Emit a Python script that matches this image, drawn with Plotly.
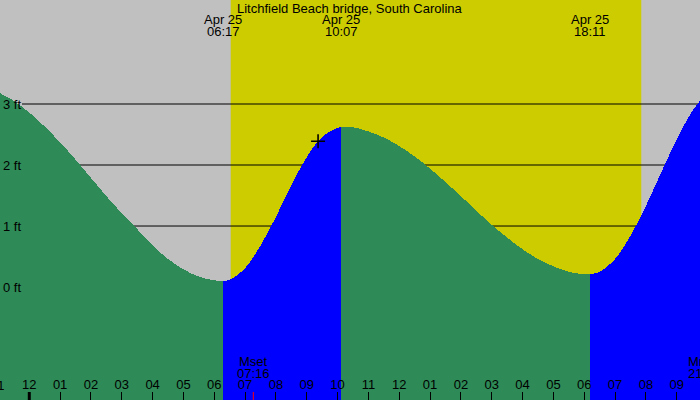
import pandas as pd
import plotly.graph_objects as go

# ---------------- data ----------------
station = "Litchfield Beach bridge, South Carolina"

# falling tide (previous high -> low 06:17)
fall1_t = ["2024-04-24 23:00", "2024-04-24 23:30", "2024-04-25 00:00", "2024-04-25 00:30",
           "2024-04-25 01:00", "2024-04-25 01:30", "2024-04-25 02:00", "2024-04-25 02:30",
           "2024-04-25 03:00", "2024-04-25 03:30", "2024-04-25 04:00", "2024-04-25 04:30",
           "2024-04-25 05:00", "2024-04-25 05:30", "2024-04-25 06:00", "2024-04-25 06:17"]
fall1_h = [3.19, 3.05, 2.86, 2.63, 2.37, 2.09, 1.79, 1.49, 1.21, 0.95, 0.68, 0.46, 0.29, 0.17, 0.11, 0.10]

# rising tide (low 06:17 -> high 10:07)
rise1_t = ["2024-04-25 06:17", "2024-04-25 06:30", "2024-04-25 07:00", "2024-04-25 07:30",
           "2024-04-25 08:00", "2024-04-25 08:30", "2024-04-25 09:00", "2024-04-25 09:30",
           "2024-04-25 10:00", "2024-04-25 10:07"]
rise1_h = [0.10, 0.12, 0.31, 0.68, 1.15, 1.67, 2.13, 2.46, 2.61, 2.62]

# falling tide (high 10:07 -> low 18:11)
fall2_t = ["2024-04-25 10:07", "2024-04-25 10:30", "2024-04-25 11:00", "2024-04-25 11:30",
           "2024-04-25 12:00", "2024-04-25 12:30", "2024-04-25 13:00", "2024-04-25 13:30",
           "2024-04-25 14:00", "2024-04-25 14:30", "2024-04-25 15:00", "2024-04-25 15:30",
           "2024-04-25 16:00", "2024-04-25 16:30", "2024-04-25 17:00", "2024-04-25 17:30",
           "2024-04-25 18:00", "2024-04-25 18:11"]
fall2_h = [2.62, 2.62, 2.55, 2.45, 2.31, 2.14, 1.94, 1.72, 1.49, 1.25, 1.02, 0.81,
           0.62, 0.46, 0.34, 0.25, 0.21, 0.21]

# rising tide (low 18:11 -> next high)
rise2_t = ["2024-04-25 18:11", "2024-04-25 18:30", "2024-04-25 19:00", "2024-04-25 19:30",
           "2024-04-25 20:00", "2024-04-25 20:30", "2024-04-25 21:00", "2024-04-25 21:30",
           "2024-04-25 22:00"]
rise2_h = [0.21, 0.25, 0.46, 0.84, 1.33, 1.88, 2.42, 2.88, 3.20]

# tide extreme labels at top
extreme_times = ["2024-04-25 06:17", "2024-04-25 10:07", "2024-04-25 18:11"]
extreme_dates = ["Apr 25", "Apr 25", "Apr 25"]
extreme_labels = ["06:17", "10:07", "18:11"]

# daylight
sunrise = "2024-04-25 06:32"
sunset = "2024-04-25 19:51"

# moon events
moon_times = ["2024-04-25 07:16", "2024-04-25 21:54"]
moon_names = ["Mset", "Mrise"]
moon_labels = ["07:16", "21:54"]

# current marker
now_t = ["2024-04-25 09:22"]
now_h = [2.39]

# height grid / labels
grid_ft = [0, 1, 2, 3]
grid_labels = ["0 ft", "1 ft", "2 ft", "3 ft"]

x_range = ["2024-04-24 23:03:00", "2024-04-25 21:45:18"]
y_range = [-1.852, 4.705]
hour_ticks_extra = ["2024-04-24 23:00"]  # partially visible tick label at left edge
hour_extra_labels = ["11"]

# ---------------- style ----------------
GREY = "#c0c0c0"
YELLOW = "#cccc00"
GREEN = "#2e8b57"
BLUE = "#0000ff"
FONT = "Liberation Sans, Arial, sans-serif"

fig = go.Figure()

BASE = -10  # well below axis range; fills reach the bottom edge

def add_segment(ts, hs, color):
    fig.add_trace(go.Scatter(x=[ts[0], ts[-1]], y=[BASE, BASE], mode="lines",
                             line=dict(width=0, color=color), hoverinfo="skip",
                             showlegend=False))
    fig.add_trace(go.Scatter(x=ts, y=hs, mode="lines", line=dict(width=0, color=color, shape="spline"),
                             fill="tonexty", fillcolor=color, showlegend=False))

add_segment(fall1_t, fall1_h, GREEN)
add_segment(rise1_t, rise1_h, BLUE)
add_segment(fall2_t, fall2_h, GREEN)
add_segment(rise2_t, rise2_h, BLUE)

fig.add_trace(go.Scatter(x=now_t, y=now_h, mode="markers",
                         marker=dict(symbol="cross-thin", size=10, line=dict(width=1.6, color="black")),
                         showlegend=False))

x0 = pd.Timestamp(x_range[0])
x1 = pd.Timestamp(x_range[1])

def frac(t):
    return (pd.Timestamp(t) - x0) / (x1 - x0)

shapes = [
    dict(type="rect", xref="x", yref="paper", x0=sunrise, x1=sunset, y0=0, y1=1,
         fillcolor=YELLOW, line=dict(width=0), layer="below"),
]
for g in grid_ft:
    shapes.append(dict(type="line", xref="paper", yref="y", x0=22 / 700, x1=1, y0=g, y1=g,
                       line=dict(color="black", width=1), layer="below"))
# midnight thick tick
shapes.append(dict(type="line", xref="x", yref="paper", x0="2024-04-25 00:00", x1="2024-04-25 00:00",
                   y0=0, y1=8 / 400, line=dict(color="black", width=3), layer="above"))
# moon event red ticks
for mt in moon_times:
    shapes.append(dict(type="line", xref="x", yref="paper", x0=mt, x1=mt,
                       y0=0, y1=8 / 400, line=dict(color="red", width=1), layer="above"))

ann = []
F = dict(family=FONT, size=13, color="black")
ann.append(dict(xref="paper", yref="paper", x=0.5, y=1 - 8 / 400, text=station, showarrow=False,
                xanchor="center", yanchor="middle", font=F))
for t, d, l in zip(extreme_times, extreme_dates, extreme_labels):
    ann.append(dict(xref="x", yref="paper", x=t, y=1 - 19.5 / 400, text=d, showarrow=False,
                    xanchor="center", yanchor="middle", font=F))
    ann.append(dict(xref="x", yref="paper", x=t, y=1 - 31.5 / 400, text=l, showarrow=False,
                    xanchor="center", yanchor="middle", font=F))
for t, n, l in zip(moon_times, moon_names, moon_labels):
    ann.append(dict(xref="paper", yref="paper", x=frac(t), y=1 - 361.5 / 400, text=n, showarrow=False,
                    xanchor="center", yanchor="middle", font=F))
    ann.append(dict(xref="paper", yref="paper", x=frac(t), y=1 - 373.5 / 400, text=l, showarrow=False,
                    xanchor="center", yanchor="middle", font=F))
for g, l in zip(grid_ft, grid_labels):
    ann.append(dict(xref="paper", yref="y", x=1 / 700, y=g, text=l, showarrow=False,
                    xanchor="left", yanchor="middle", font=F))
for t, l in zip(hour_ticks_extra, hour_extra_labels):
    ann.append(dict(xref="paper", yref="paper", x=frac(t), y=1 - 385.5 / 400, text=l, showarrow=False,
                    xanchor="center", yanchor="middle", font=F))

fig.update_layout(
    width=700, height=400, margin=dict(l=0, r=0, t=0, b=0),
    paper_bgcolor=GREY, plot_bgcolor=GREY,
    showlegend=False,
    shapes=shapes, annotations=ann,
    xaxis=dict(type="date", range=x_range, showgrid=False, zeroline=False, showline=False,
               tick0="2024-04-25 00:00", dtick=3600000, tickformat="%I",
               ticks="inside", ticklen=8, tickwidth=1, tickcolor="black",
               ticklabelposition="inside", tickfont=F, layer="above traces"),
    yaxis=dict(range=y_range, showgrid=False, zeroline=False, showticklabels=False,
               showline=False, ticks=""),
)

post = ("document.querySelectorAll('.js-fill').forEach(function(p){"
        "p.style.shapeRendering='crispEdges';});")
fig.write_html("out.html", post_script=post)
